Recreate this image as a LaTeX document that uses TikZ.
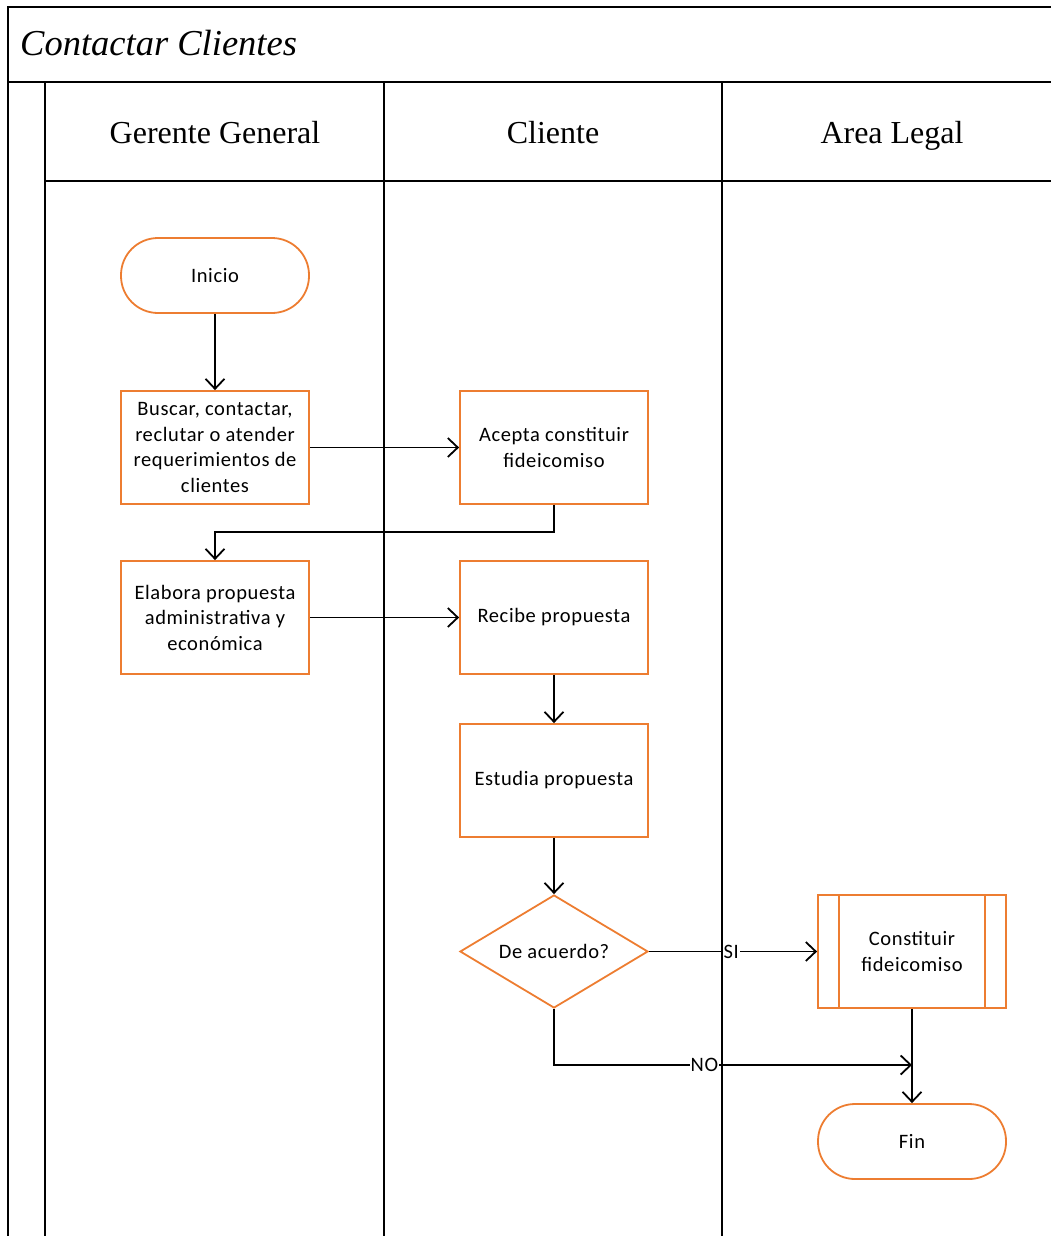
\documentclass[tikz,border=0pt]{standalone}
\usepackage{fontspec}
\setmainfont{Liberation Serif}
\newfontfamily\boxfont[LetterSpace=3]{Carlito}
\usetikzlibrary{shapes.geometric,arrows.meta,calc}
\definecolor{flowline}{HTML}{ED7D31}
\tikzset{
  lane/.style={line width=2.2pt, draw=black},
  procbox/.style={draw=flowline, line width=1.8pt, rectangle, minimum width=188pt,
    minimum height=113pt, inner sep=0pt, align=center,
    font=\boxfont\fontsize{20.5}{25.5}\selectfont},
  termbox/.style={procbox, minimum height=75pt, rounded corners=37pt},
  decbox/.style={procbox, diamond, aspect=1.66},
  flow/.style={line width=1.8pt, draw=black,
    -{Straight Barb[length=10pt,width=19pt,line width=1.8pt]}},
  edgetag/.style={fill=white, inner sep=1pt, font=\boxfont\fontsize{20.5}{22}\selectfont},
  lanehead/.style={anchor=base, font=\fontsize{32}{36}\selectfont},
}
\begin{document}
\begin{tikzpicture}[x=1pt,y=-1pt]
\useasboundingbox (0,0) rectangle (1051,1236);
% pool frame and lanes
\draw[lane] (8,1236) -- (8,7) -- (1051,7);
\draw[lane] (8,82) -- (1051,82);
\draw[lane] (45,1236) -- (45,82);
\draw[lane] (384,1236) -- (384,82);
\draw[lane] (722,1236) -- (722,82);
\draw[lane] (45,181) -- (1051,181);
\node[anchor=base west, inner sep=0pt, font=\itshape\fontsize{36.5}{40}\selectfont] (title) at (20,56) {Contactar Clientes};
\node[lanehead] (h1) at (215,143) {Gerente General};
\node[lanehead] (h2) at (553,143) {Cliente};
\node[lanehead] (h3) at (892,143) {Area Legal};
% steps
\node[termbox] (inicio) at (215,275.5) {Inicio};
\node[procbox] (buscar) at (215,447.5) {Buscar, contactar,\\reclutar o atender\\requerimientos de\\clientes};
\node[procbox] (acepta) at (554,447.5) {Acepta constituir\\fideicomiso};
\node[procbox] (elabora) at (215,617.5) {Elabora propuesta\\administrativa y\\económica};
\node[procbox] (recibe) at (554,617.5) {Recibe propuesta};
\node[procbox] (estudia) at (554,780.5) {Estudia propuesta};
\node[decbox, minimum width=188pt, minimum height=113pt] (dec) at (554,951.5) {De acuerdo?};
\node[procbox] (const) at (912,951.5) {Constituir\\fideicomiso};
\draw[draw=flowline, line width=1.8pt] ($(const.north west)+(22,0)$) -- ($(const.south west)+(22,0)$);
\draw[draw=flowline, line width=1.8pt] ($(const.north east)+(-22,0)$) -- ($(const.south east)+(-22,0)$);
\node[termbox] (fin) at (912,1141.5) {Fin};
\coordinate (join) at (912,1065);
% connectors
\draw[flow] (inicio) -- (buscar);
\draw[flow] (buscar) -- (acepta);
\draw[flow] (acepta.south) |- (215,532) -- (elabora.north);
\draw[flow] (elabora) -- (recibe);
\draw[flow] (recibe) -- (estudia);
\draw[flow] (estudia) -- (dec);
\draw[flow] (dec.east) -- node[edgetag, pos=0.49] {SI} (const.west);
\draw[flow] (dec.south) |- node[edgetag, pos=0.71] {NO} (join);
\draw[flow] (const.south) -- (fin.north);
\end{tikzpicture}
\end{document}
